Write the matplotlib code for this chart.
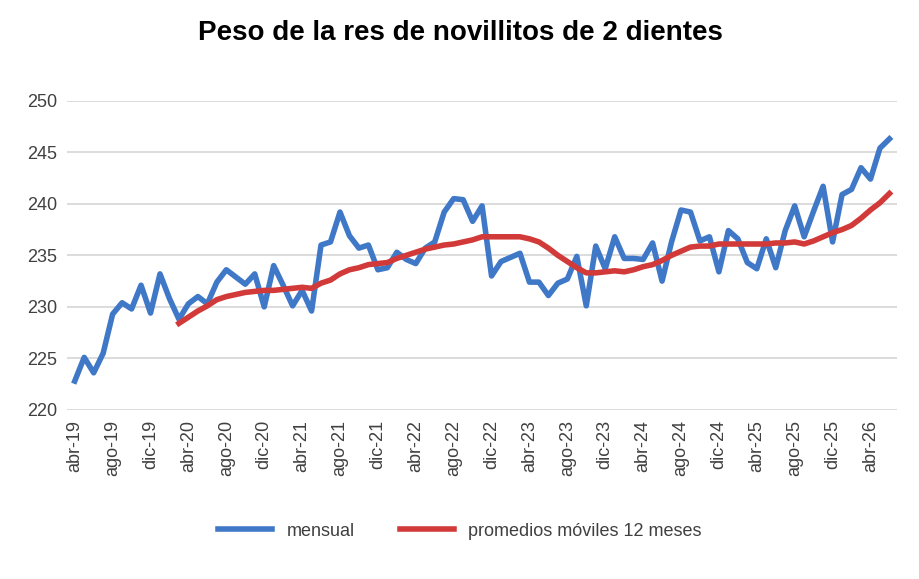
import matplotlib.pyplot as plt
import pandas as pd

plt.rcParams['font.family'] = ['Liberation Sans', 'DejaVu Sans']

mensual = [222.8, 225.1, 223.6, 225.5, 229.3, 230.4, 229.8, 232.1, 229.4, 233.2,
           230.8, 228.8, 230.3, 231.0, 230.3, 232.4, 233.6, 232.9, 232.2, 233.2,
           230.0, 234.0, 232.1, 230.1, 231.6, 229.6, 236.0, 236.3, 239.2, 236.9,
           235.7, 236.0, 233.6, 233.8, 235.3, 234.6, 234.2, 235.7, 236.3, 239.2,
           240.5, 240.4, 238.3, 239.8, 233.0, 234.4, 234.8, 235.2, 232.4, 232.4,
           231.1, 232.3, 232.7, 234.9, 230.1, 235.9, 233.7, 236.8, 234.7, 234.7,
           234.6, 236.2, 232.5, 236.3, 239.4, 239.2, 236.4, 236.8, 233.4, 237.4,
           236.6, 234.3, 233.7, 236.6, 233.8, 237.4, 239.8, 236.8, 239.3, 241.7,
           236.3, 240.9, 241.4, 243.5, 242.4, 245.4, 246.3]

# promedio movil 12 meses, desde el mes 12
promedio = [None] * 11 + [
    228.4, 229.0, 229.6, 230.1, 230.7, 231.0, 231.2, 231.4, 231.5, 231.6,
    231.6, 231.7, 231.8, 231.9, 231.8, 232.3, 232.6, 233.2, 233.6, 233.8,
    234.1, 234.2, 234.3, 234.7, 235.0, 235.3, 235.6, 235.8, 236.0, 236.1,
    236.3, 236.5, 236.8, 236.8, 236.8, 236.8, 236.8, 236.6, 236.3, 235.7,
    235.0, 234.4, 233.8, 233.3, 233.3, 233.4, 233.5, 233.4, 233.6, 233.9,
    234.1, 234.5, 235.0, 235.4, 235.8, 235.9, 235.9, 236.1, 236.1, 236.1,
    236.1, 236.1, 236.1, 236.2, 236.2, 236.3, 236.1, 236.4, 236.8, 237.2,
    237.5, 237.9, 238.6, 239.4, 240.1, 241.0]

meses = ['ene', 'feb', 'mar', 'abr', 'may', 'jun', 'jul', 'ago', 'sep', 'oct', 'nov', 'dic']
etiquetas = []
for i in range(len(mensual)):
    m = 3 + i
    etiquetas.append(f"{meses[m % 12]}-{19 + m // 12}")

x = list(range(len(mensual)))
prom = pd.Series(promedio, dtype=float)

fig, ax = plt.subplots(figsize=(9.2, 5.79), dpi=100)
fig.subplots_adjust(left=0.073, right=0.975, top=0.826, bottom=0.292)

ax.plot(x, mensual, color='#4078c8', linewidth=4, label='mensual', solid_joinstyle='round')
ax.plot(x, prom, color='#d23a3a', linewidth=4, label='promedios móviles 12 meses')

ax.set_ylim(220, 250)
ax.set_yticks(range(220, 251, 5))
ax.set_xlim(-0.8, len(mensual) - 0.2)
ax.set_xticks(x[::4])
ax.set_xticklabels(etiquetas[::4], rotation=90)
ax.tick_params(axis='both', length=0, labelsize=13, colors='#404040', pad=7)
ax.grid(axis='y', color='#d9d9d9', linewidth=1.3)
ax.set_axisbelow(True)
for s in ax.spines.values():
    s.set_visible(False)

fig.suptitle('Peso de la res de novillitos de 2 dientes', fontsize=20, fontweight='bold', y=0.965)
fig.legend(loc='lower center', ncol=2, frameon=False, fontsize=13, bbox_to_anchor=(0.5, 0.04),
           handlelength=3, labelcolor='#404040', columnspacing=2.5)

fig.savefig('out.png')
